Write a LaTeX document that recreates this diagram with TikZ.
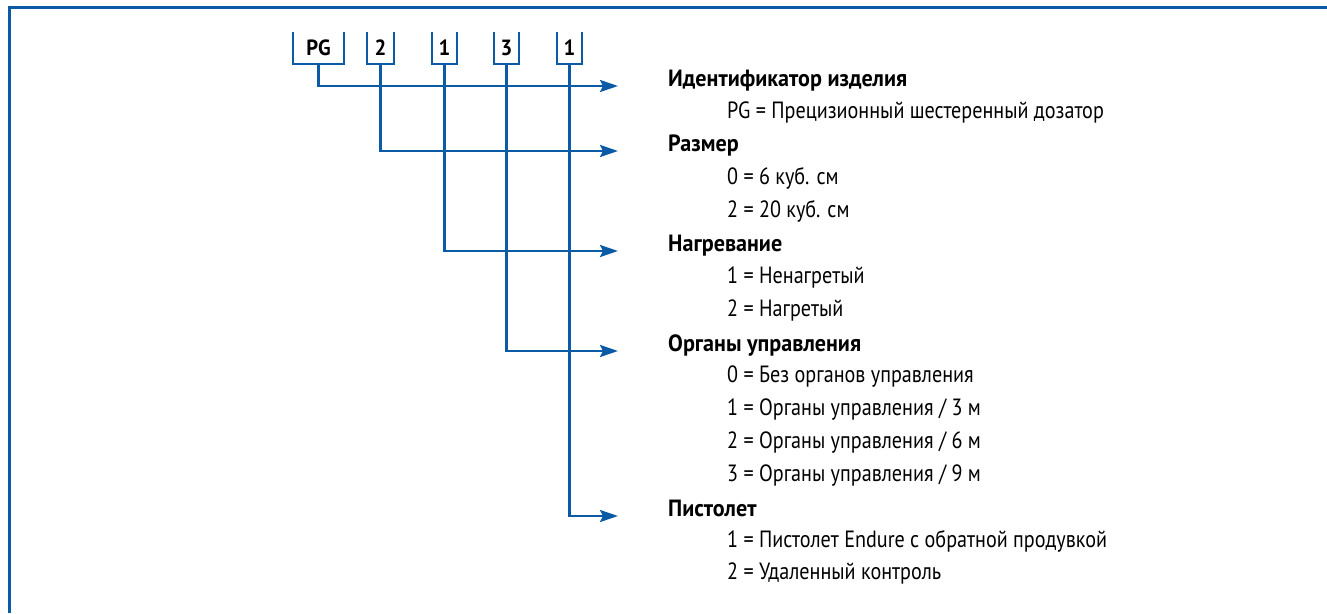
\documentclass[tikz,border=0pt]{standalone}
\usepackage{fontspec}
\setmainfont{PT Sans}[FakeStretch=0.857]
\newfontfamily\hdrfont{PT Sans}[FakeStretch=0.94]
\usetikzlibrary{arrows.meta}
\definecolor{codeblue}{RGB}{10,90,165}

\tikzset{
CodeBox/.style={inner sep=0pt, minimum height=32pt, text depth=0pt,
        font=\hdrfont\fontsize{22}{24}\selectfont\bfseries},
CodeLine/.style={draw=codeblue, line width=2.5pt},
CodeArrow/.style={arrows={-Stealth[length=18pt,width=12pt,inset=3pt]},
        draw=codeblue, line width=2.5pt, shorten >=50pt},
Header/.style={anchor=base west, inner sep=0pt, font=\hdrfont\fontsize{23.5}{26}\selectfont\bfseries},
Item/.style={anchor=base west, inner sep=0pt, font=\fontsize{23.5}{26}\selectfont},
Frame/.style={draw=codeblue, line width=2.8pt},
}

\begin{document}
\begin{tikzpicture}[x=1pt, y=-1pt]
	\useasboundingbox (0,0) rectangle (1327,613);
	\draw[Frame] (1327,7.5) -- (9.5,7.5) -- (9.5,613);

	% code boxes
	\node[CodeBox, minimum width=51pt] (cPG) at (318.5,48) {PG};
	\node[CodeBox, minimum width=27pt] (cSize) at (380.5,48) {2};
	\node[CodeBox, minimum width=25pt] (cHeat) at (444.5,48) {1};
	\node[CodeBox, minimum width=25pt] (cCtrl) at (506.5,48) {3};
	\node[CodeBox, minimum width=25pt] (cGun) at (569.5,48) {1};
	\foreach \c in {cPG,cSize,cHeat,cCtrl,cGun}
		\draw[CodeLine] (\c.north west) |- (\c.south east) -- (\c.north east);

	% headers
	\node[Header] (hPG) at (668,86) {Идентификатор изделия};
	\node[Header] (hSize) at (668,151) {Размер};
	\node[Header] (hHeat) at (668,251) {Нагревание};
	\node[Header] (hCtrl) at (668,351) {Органы управления};
	\node[Header] (hGun) at (668,516) {Пистолет};

	% options
	\foreach \n/\txt in {1/{PG = Прецизионный шестеренный дозатор},
			3/{0 = 6 куб. см}, 4/{2 = 20 куб. см},
			6/{1 = Ненагретый}, 7/{2 = Нагретый},
			9/{0 = Без органов управления}, 10/{1 = Органы управления / 3 м},
			11/{2 = Органы управления / 6 м}, 12/{3 = Органы управления / 9 м},
			14/{1 = Пистолет Endure с обратной продувкой}, 15/{2 = Удаленный контроль}}
		\node[Item] (opt\n) at (727,86+\n*32.93) {\txt};

	\draw[CodeArrow] (cPG.south) |- (hPG.base west);
	\draw[CodeArrow] (cSize.south) |- (hSize.base west);
	\draw[CodeArrow] (cHeat.south) |- (hHeat.base west);
	\draw[CodeArrow] (cCtrl.south) |- (hCtrl.base west);
	\draw[CodeArrow] (cGun.south) |- (hGun.base west);
\end{tikzpicture}
\end{document}
